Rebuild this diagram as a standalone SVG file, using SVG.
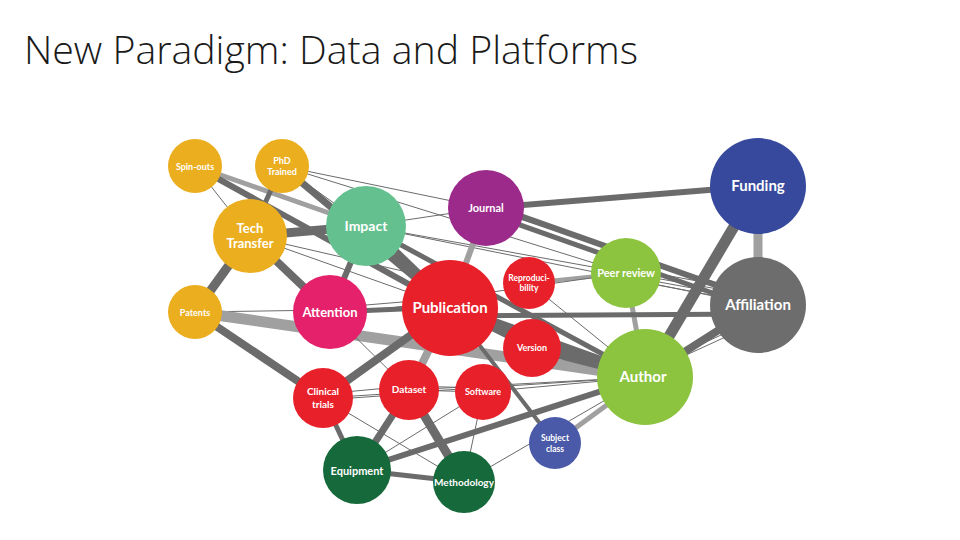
<svg xmlns="http://www.w3.org/2000/svg" width="960" height="540" viewBox="0 0 960 540">
<style>
.e{stroke:#6b6b6b;fill:none;stroke-linecap:butt}
.l{stroke:#a0a0a0;fill:none}
.t{stroke:#6b6b6b;stroke-width:1;fill:none}
.lab{font-family:Lato,"Open Sans",sans-serif;font-weight:bold;fill:#fff;text-anchor:middle}
.y{fill:#ebae1f}.r{fill:#e8202a}.g{fill:#8cc43f}.dg{fill:#15693a}
</style>
<rect width="960" height="540" fill="#fff"/>
<text x="24" y="64" font-family="'Open Sans','Liberation Sans',sans-serif" font-weight="300" font-size="38" fill="#1a1a1a" textLength="614" lengthAdjust="spacingAndGlyphs">New Paradigm: Data and Platforms</text>
<g id="connectors">
<line class="l" x1="195" y1="166" x2="366" y2="226" stroke-width="5"/>
<line class="e" x1="195" y1="166" x2="450" y2="307" stroke-width="6"/>
<line class="t" x1="195" y1="166" x2="250" y2="236"/>
<line class="e" x1="282" y1="166" x2="250" y2="236" stroke-width="5"/>
<line class="e" x1="282" y1="166" x2="450" y2="307" stroke-width="7"/>
<line class="t" x1="282" y1="166" x2="486" y2="208"/>
<line class="t" x1="282" y1="166" x2="626" y2="273"/>
<line class="t" x1="282" y1="166" x2="366" y2="226"/>
<line class="e" x1="250" y1="236" x2="366" y2="226" stroke-width="9"/>
<line class="e" x1="250" y1="236" x2="195" y2="312" stroke-width="9"/>
<line class="e" x1="250" y1="236" x2="330" y2="312" stroke-width="8"/>
<line class="t" x1="250" y1="236" x2="450" y2="307"/>
<line class="t" x1="250" y1="236" x2="420" y2="275"/>
<line class="e" x1="366" y1="226" x2="330" y2="312" stroke-width="6"/>
<line class="e" x1="366" y1="226" x2="450" y2="307" stroke-width="12"/>
<line class="e" x1="366" y1="226" x2="645" y2="377" stroke-width="5"/>
<line class="t" x1="366" y1="226" x2="758" y2="305"/>
<line class="t" x1="366" y1="226" x2="486" y2="208"/>
<line class="t" x1="366" y1="226" x2="626" y2="273"/>
<line class="t" x1="195" y1="312" x2="330" y2="310"/>
<line class="l" x1="195" y1="312" x2="645" y2="377" stroke-width="11"/>
<line class="e" x1="195" y1="312" x2="323" y2="398" stroke-width="8"/>
<line class="e" x1="330" y1="312" x2="450" y2="307" stroke-width="5"/>
<line class="t" x1="330" y1="308" x2="450" y2="298"/>
<line class="t" x1="330" y1="316" x2="450" y2="300"/>
<line class="t" x1="330" y1="312" x2="409" y2="390"/>
<line class="e" x1="486" y1="208" x2="758" y2="186" stroke-width="6"/>
<line class="l" x1="486" y1="208" x2="450" y2="307" stroke-width="6"/>
<line class="e" x1="486" y1="204" x2="758" y2="300" stroke-width="6"/>
<line class="e" x1="486" y1="213" x2="758" y2="309" stroke-width="5"/>
<line class="t" x1="486" y1="208" x2="758" y2="296"/>
<line class="l" x1="758" y1="186" x2="758" y2="305" stroke-width="9"/>
<line class="e" x1="758" y1="186" x2="645" y2="377" stroke-width="11"/>
<line class="l" x1="626" y1="273" x2="645" y2="377" stroke-width="5"/>
<line class="l" x1="626" y1="273" x2="529" y2="283" stroke-width="4"/>
<line class="t" x1="626" y1="273" x2="758" y2="296"/>
<line class="t" x1="626" y1="276" x2="758" y2="300"/>
<line class="t" x1="626" y1="279" x2="758" y2="304"/>
<line class="t" x1="626" y1="268" x2="758" y2="292"/>
<line class="e" x1="450" y1="316" x2="758" y2="314" stroke-width="5"/>
<line class="t" x1="450" y1="298" x2="626" y2="273"/>
<line class="e" x1="450" y1="307" x2="645" y2="377" stroke-width="10"/>
<line class="e" x1="450" y1="307" x2="532" y2="348" stroke-width="6"/>
<line class="l" x1="450" y1="307" x2="409" y2="390" stroke-width="8"/>
<line class="e" x1="450" y1="307" x2="323" y2="398" stroke-width="8"/>
<line class="e" x1="450" y1="307" x2="555" y2="443" stroke-width="4"/>
<line class="e" x1="532" y1="348" x2="645" y2="377" stroke-width="8"/>
<line class="t" x1="529" y1="283" x2="645" y2="377"/>
<line class="e" x1="645" y1="377" x2="758" y2="305" stroke-width="8"/>
<line class="t" x1="645" y1="370" x2="758" y2="318"/>
<line class="t" x1="645" y1="374" x2="758" y2="322"/>
<line class="l" x1="645" y1="377" x2="555" y2="443" stroke-width="5"/>
<line class="e" x1="645" y1="377" x2="357" y2="470" stroke-width="6"/>
<line class="t" x1="645" y1="377" x2="483" y2="392"/>
<line class="t" x1="645" y1="377" x2="409" y2="390"/>
<line class="t" x1="645" y1="377" x2="323" y2="398"/>
<line class="t" x1="645" y1="377" x2="464" y2="482"/>
<line class="t" x1="323" y1="394" x2="409" y2="386"/>
<line class="t" x1="323" y1="400" x2="409" y2="394"/>
<line class="e" x1="323" y1="398" x2="357" y2="470" stroke-width="5"/>
<line class="t" x1="323" y1="398" x2="464" y2="482"/>
<line class="e" x1="409" y1="390" x2="357" y2="470" stroke-width="7"/>
<line class="e" x1="409" y1="390" x2="464" y2="482" stroke-width="9"/>
<line class="t" x1="409" y1="390" x2="483" y2="392"/>
<line class="t" x1="409" y1="386" x2="483" y2="388"/>
<line class="e" x1="357" y1="470" x2="464" y2="482" stroke-width="5"/>
<line class="t" x1="357" y1="470" x2="483" y2="392"/>
<line class="t" x1="483" y1="392" x2="464" y2="482"/>
</g>
<g id="spin-outs"><circle cx="195" cy="166" r="27" class="y"/><text class="lab" x="195" y="170" font-size="9">Spin-outs</text></g>
<g id="phd-trained"><circle cx="282" cy="166" r="27" class="y"/><text class="lab" x="282" y="164" font-size="9">PhD</text><text class="lab" x="282" y="175" font-size="9">Trained</text></g>
<g id="tech-transfer"><circle cx="250" cy="236" r="37" class="y"/><text class="lab" x="250" y="233" font-size="13">Tech</text><text class="lab" x="250" y="248" font-size="13">Transfer</text></g>
<g id="impact"><circle cx="366" cy="226" r="40" fill="#64c18f"/><text class="lab" x="366" y="231" font-size="14">Impact</text></g>
<g id="patents"><circle cx="195" cy="312" r="27" class="y"/><text class="lab" x="195" y="316" font-size="9">Patents</text></g>
<g id="attention"><circle cx="330" cy="312" r="37" fill="#e5216b"/><text class="lab" x="330" y="317" font-size="13">Attention</text></g>
<g id="journal"><circle cx="486" cy="208" r="38" fill="#9c2a8b"/><text class="lab" x="486" y="212" font-size="11">Journal</text></g>
<g id="publication"><circle cx="450" cy="308" r="48" class="r"/><text class="lab" x="450" y="313" font-size="15">Publication</text></g>
<g id="reproducibility"><circle cx="529" cy="283" r="26" class="r"/><text class="lab" x="529" y="281" font-size="8.5">Reproduci-</text><text class="lab" x="529" y="291" font-size="8.5">bility</text></g>
<g id="peer-review"><circle cx="626" cy="273" r="35" class="g"/><text class="lab" x="626" y="277" font-size="11">Peer review</text></g>
<g id="funding"><circle cx="758" cy="186" r="48" fill="#36499c"/><text class="lab" x="758" y="191" font-size="15">Funding</text></g>
<g id="affiliation"><circle cx="758" cy="305" r="48" fill="#6d6d6d"/><text class="lab" x="758" y="310" font-size="15">Affiliation</text></g>
<g id="version"><circle cx="532" cy="348" r="29" class="r"/><text class="lab" x="532" y="351" font-size="9">Version</text></g>
<g id="author"><circle cx="645" cy="377" r="48" class="g"/><text class="lab" x="643" y="382" font-size="15">Author</text></g>
<g id="software"><circle cx="483" cy="392" r="28" class="r"/><text class="lab" x="483" y="395" font-size="9">Software</text></g>
<g id="subject-class"><circle cx="555" cy="443" r="26" fill="#4a59a8"/><text class="lab" x="555" y="441" font-size="8.5">Subject</text><text class="lab" x="555" y="452" font-size="8.5">class</text></g>
<g id="dataset"><circle cx="409" cy="390" r="30" class="r"/><text class="lab" x="409" y="393" font-size="10">Dataset</text></g>
<g id="clinical-trials"><circle cx="323" cy="398" r="30" class="r"/><text class="lab" x="323" y="395" font-size="10">Clinical</text><text class="lab" x="323" y="408" font-size="10">trials</text></g>
<g id="equipment"><circle cx="357" cy="470" r="34" class="dg"/><text class="lab" x="357" y="475" font-size="11">Equipment</text></g>
<g id="methodology"><circle cx="464" cy="482" r="31" class="dg"/><text class="lab" x="464" y="486" font-size="10">Methodology</text></g>
</svg>
